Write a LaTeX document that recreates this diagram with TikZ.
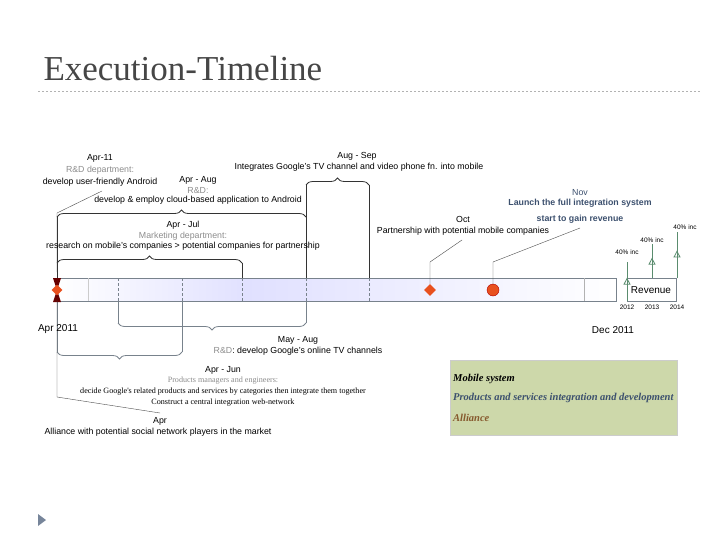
\documentclass[tikz,border=0pt]{standalone}
\usepackage{fontspec}
\setmainfont{Liberation Sans}
\newfontfamily\serifx{Liberation Serif}
\usetikzlibrary{decorations.pathreplacing,decorations.markings,arrows.meta,shapes.geometric}
\definecolor{titlec}{RGB}{70,70,70}
\definecolor{graytx}{RGB}{140,140,140}
\definecolor{orng}{RGB}{232,80,30}
\definecolor{navy}{RGB}{60,80,110}
\definecolor{grn}{RGB}{90,140,110}
\definecolor{legbg}{RGB}{205,216,170}
\definecolor{barb}{RGB}{120,130,140}
\tikzset{
 t/.style={font=\fontsize{8.8}{9}\selectfont,inner sep=0pt,anchor=center},
 g/.style={t,text=graytx},
 sf/.style={font=\serifx\fontsize{8.1}{9}\selectfont,inner sep=0pt},
 br/.style={decorate,decoration={brace,amplitude=7pt},thick,draw=black!80},
 brb/.style={decorate,decoration={brace,amplitude=7pt,mirror},thick,draw=barb},
 dsh/.style={densely dashed,draw=barb,thin},
 ld/.style={draw=black!70,thin},
 sm/.style={t,font=\fontsize{6.5}{7}\selectfont},
 leg/.style={font=\serifx\bfseries\itshape\fontsize{10.5}{11}\selectfont,anchor=west,inner sep=0pt},
 up/.style={draw=grn,thick,postaction={decorate},decoration={markings,mark=at position 0.6 with {\arrow{Triangle[open,length=7pt,width=7pt]}}}}
}
\begin{document}
\begin{tikzpicture}[x=1pt,y=-1pt]
\useasboundingbox (0,0) rectangle (728,546);
\node[anchor=west,font=\serifx\fontsize{35}{38}\selectfont,text=titlec] (title) at (40,69) {Execution-Timeline};
\draw[dash pattern=on 2pt off 2pt,draw=black!30] (38,91) -- (700,91);
% bar
\shade[left color=white,right color=blue!12] (57,278) rectangle (250,301);
\shade[left color=blue!12,right color=white] (250,278) rectangle (616,301);
\draw[barb] (57,278) rectangle (616,301);
\draw[draw=black!20] (88,278) -- (88,301);
\draw[draw=black!30] (584,278) -- (584,301);
\foreach \x in {118,182,242,306,369} \draw[dsh] (\x,278) -- (\x,301);
% braces above
\draw[br] (57,263) -- (242,263);
\draw[thick,draw=black!80] (242,263) -- (242,278);
\draw[thick,draw=black!80] (57,278) -- (57,217);
\draw[br] (57,217) -- (306,217);
\draw[thick,draw=black!80] (306,185) -- (306,278);
\draw[br] (306,185) -- (369,185);
\draw[thick,draw=black!80] (369,185) -- (369,278);
% braces below
\draw[brb] (118,323) -- (306,323);
\draw[thick,draw=barb] (118,301) -- (118,323) (306,301) -- (306,323);
\draw[brb] (57,352) -- (182,352);
\draw[thick,draw=barb] (182,301) -- (182,352) (57,301) -- (57,352);
% start marker
\fill[black!60!red] (53,278) -- (61,278) -- (57,290) -- cycle;
\fill[black!60!red] (53,302) -- (61,302) -- (57,290) -- cycle;
\node[fill=orng,diamond,minimum size=11pt,inner sep=0pt] (m0) at (57,290) {};
\draw[ld] (57,300) -- (57,397) -- (160,413);
\draw[ld] (57,272) -- (57,213) -- (102,191);
% Oct / Nov
\node[fill=orng,diamond,minimum size=12pt,inner sep=0pt] (oct) at (430,290) {};
\draw[ld] (oct) -- (430,262) -- (462,240);
\node[fill=orng,draw=red!70!black,circle,minimum size=12pt,inner sep=0pt] (nov) at (493,290) {};
\draw[ld] (nov) -- (493,262) -- (580,228);
% revenue
\draw[barb] (627,278) rectangle (676,301);
\node[t,font=\fontsize{10}{11}\selectfont] (rev) at (651,290) {Revenue};
\draw[up] (627,301) -- (627,262);
\draw[up] (652,278) -- (652,244);
\draw[up] (677,278) -- (677,232);
\node[sm] at (627,252) {40\% inc};
\node[sm] at (652,240) {40\% inc};
\node[sm] at (685,227) {40\% inc};
\node[sm] at (627,307) {2012};
\node[sm] at (652,307) {2013};
\node[sm] at (677,307) {2014};
% texts
\node[t] (a1) at (100,158) {Apr-11};
\node[g] at (100,170) {R\&D department:};
\node[t] at (100,182) {develop user-friendly Android};
\node[t] at (198,180) {Apr - Aug};
\node[g] at (198,190) {R\&D:};
\node[t] at (198,200) {develop \& employ cloud-based application to Android};
\node[t] at (183,225) {Apr - Jul};
\node[g] at (183,236) {Marketing department:};
\node[t] at (183,246) {research on mobile's companies > potential companies for partnership};
\node[t] at (357,156) {Aug - Sep};
\node[t] at (359,167) {Integrates Google's TV channel and video phone fn. into mobile};
\node[t] at (463,219) {Oct};
\node[t] at (463,231) {Partnership with potential mobile companies};
\node[t,text=navy] at (580,193) {Nov};
\node[t,text=navy,font=\bfseries\fontsize{8.8}{9}\selectfont] at (580,203) {Launch the full integration system};
\node[t,text=navy,font=\bfseries\fontsize{8.8}{9}\selectfont] at (580,219) {start to gain revenue};
\node[t,font=\fontsize{10}{11}\selectfont] at (58,329) {Apr 2011};
\node[t,font=\fontsize{10}{11}\selectfont] at (613,330) {Dec 2011};
\node[t] at (298,340) {May - Aug};
\node[t] at (298,351) {\textcolor{graytx}{R\&D}: develop Google's online TV channels};
\node[t] at (223,370) {Apr - Jun};
\node[sf,text=graytx] at (223,381) {Products managers and engineers:};
\node[sf] at (223,392) {decide Google's related products and services by categories then integrate them together};
\node[sf] at (223,403) {Construct a central integration web-network};
\node[t] at (160,421) {Apr};
\node[t] at (158,432) {Alliance with potential social network players in the market};
% legend
\node[fill=legbg,draw=black!20,minimum width=227pt,minimum height=75pt,inner sep=0pt] (legend) at (563.5,397.5) {};
\node[leg] at (453,379) {Mobile system};
\node[leg,text=navy] at (453,398) {Products and services integration and development};
\node[leg,text=brown!70!black] at (453,418) {Alliance};
% icon
\fill[navy!70] (38,514) -- (46,520) -- (38,526) -- cycle;
\end{tikzpicture}
\end{document}
